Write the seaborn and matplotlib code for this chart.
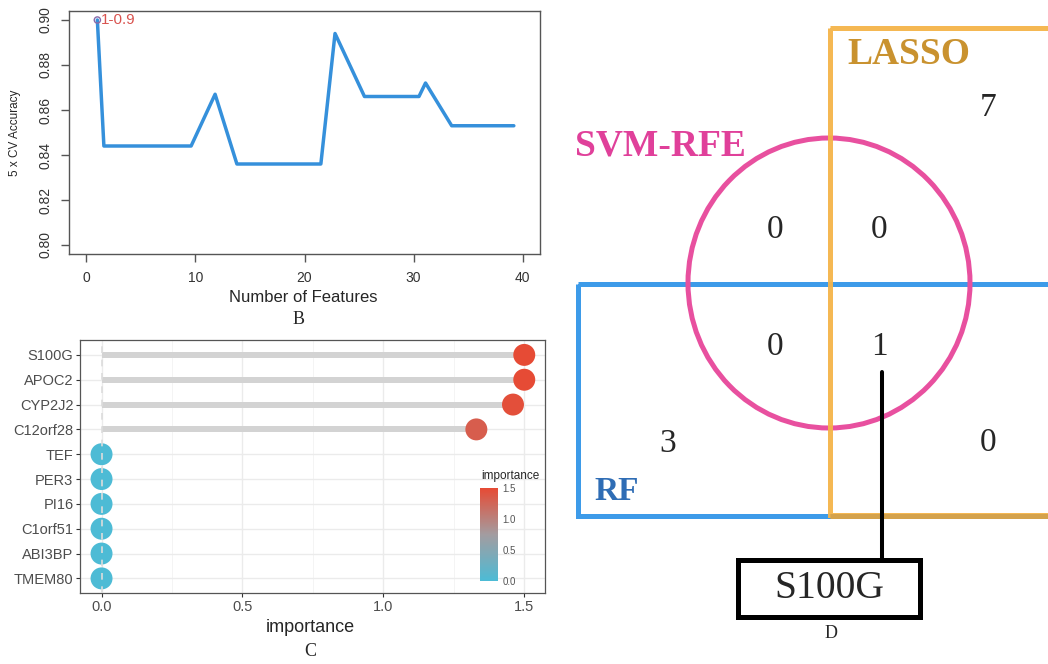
import numpy as np
import matplotlib
matplotlib.use("Agg")
import matplotlib.pyplot as plt
from matplotlib.colors import LinearSegmentedColormap, Normalize
from matplotlib.cm import ScalarMappable
from matplotlib.patches import Rectangle, Ellipse
import seaborn as sns

# B: SVM-RFE cross validation accuracy
n_features = [1, 1.6, 9.6, 11.8, 13.8, 21.5, 22.8, 25.5, 30.5, 31.1, 33.5, 39.2]
cv_acc = [0.900, 0.844, 0.844, 0.867, 0.836, 0.836, 0.894, 0.866, 0.866, 0.872, 0.853, 0.853]
best_n = 1
best_acc = 0.9

# C: random forest importance
genes = ["S100G", "APOC2", "CYP2J2", "C12orf28", "TEF", "PER3", "PI16", "C1orf51", "ABI3BP", "TMEM80"]
importance = [1.50, 1.50, 1.46, 1.33, 0, 0, 0, 0, 0, 0]

# D: venn counts
set_names = ["LASSO", "SVM-RFE", "RF"]
region_names = ["lasso", "svm", "svm_lasso", "svm_rf", "all", "rf", "rf_lasso"]
region_counts = [7, 0, 0, 0, 1, 3, 0]
shared_gene = "S100G"

W, H = 1048, 664
SERIF = ["Liberation Serif", "DejaVu Serif"]

sns.set_style("ticks")
plt.rcParams["font.family"] = ["Liberation Sans", "DejaVu Sans"]

fig = plt.figure(figsize=(W / 100, H / 100), dpi=100)


def px_axes(l, t, r, b, **kw):
    return fig.add_axes([l / W, 1 - b / H, (r - l) / W, (b - t) / H], **kw)


# ---------------- B ----------------
axB = px_axes(69, 11, 540, 254)
sns.lineplot(x=n_features, y=cv_acc, ax=axB, color="#3590DB", lw=2.5,
             estimator=None, sort=False)
axB.scatter([best_n], [best_acc], s=20, facecolors="none", edgecolors="#8a6aa8",
            linewidths=1, zorder=5)
axB.text(best_n + 0.35, best_acc, f"{best_n}-{best_acc:g}", color="#D9534F",
         fontsize=11, va="center", ha="left")
axB.set_xlim(-1.6, 41.6)
axB.set_ylim(0.796, 0.904)
axB.set_xticks([0, 10, 20, 30, 40])
yt = [0.80, 0.82, 0.84, 0.86, 0.88, 0.90]
axB.set_yticks(yt)
axB.set_yticklabels([f"{v:.2f}" for v in yt], rotation=90, va="center")
axB.tick_params(length=6, width=1, color="#555555", labelsize=10, labelcolor="#333333", pad=6)
for s in axB.spines.values():
    s.set_visible(True)
    s.set_color("#555555")
    s.set_linewidth(1)
axB.set_xlabel("")
axB.set_ylabel("")
fig.text(303 / W, 1 - 297 / H, "Number of Features", fontsize=12, ha="center", va="center")
fig.text(15 / W, 1 - 133 / H, "5 x CV Accuracy", fontsize=8.5, rotation=90,
         ha="center", va="center")
fig.text(299 / W, 1 - 319 / H, "B", fontsize=13, family=SERIF, ha="center", va="center")

# ---------------- C ----------------
cmap = LinearSegmentedColormap.from_list("imp", ["#4DBBD5", "#A39CA0", "#E64B35"])
norm = Normalize(0, 1.5)

axC = px_axes(80.4, 340, 545.4, 593.3)
ypos = np.arange(len(genes))[::-1]
axC.hlines(ypos, 0, importance, color="#d3d3d3", lw=4.3, zorder=2)
sns.scatterplot(x=importance, y=ypos, hue=importance, palette=cmap, hue_norm=(0, 1.5),
                s=250, legend=False, edgecolor="none", linewidth=0, ax=axC, zorder=3)
axC.axvline(0, color="#dcdcdc", ls=(0, (4, 4)), lw=1.2, zorder=4)
axC.set_xlim(-0.075, 1.575)
axC.set_ylim(-0.6, len(genes) - 0.4)
axC.set_xticks([0, 0.5, 1.0, 1.5])
axC.set_xticklabels(["0.0", "0.5", "1.0", "1.5"])
axC.set_xticks([0.25, 0.75, 1.25], minor=True)
axC.set_yticks(ypos)
axC.set_yticklabels(genes)
axC.grid(True, which="major", color="#ebebeb", lw=1.0, zorder=0)
axC.grid(True, which="minor", axis="x", color="#f3f3f3", lw=0.6, zorder=0)
axC.set_axisbelow(True)
axC.tick_params(which="major", length=3, width=0.8, color="#333333", labelsize=10.5,
                labelcolor="#4d4d4d", pad=2)
axC.tick_params(which="minor", length=0)
for s in axC.spines.values():
    s.set_visible(True)
    s.set_color("#555555")
    s.set_linewidth(0.9)
axC.set_xlabel("")
axC.set_ylabel("")
fig.text(310 / W, 1 - 627 / H, "importance", fontsize=13, ha="center", va="center")
fig.text(310 / W, 1 - 652 / H, "C", fontsize=13, family=SERIF, ha="center", va="center")

cax = px_axes(479.6, 488.3, 498.2, 580.7)
cb = fig.colorbar(ScalarMappable(norm=norm, cmap=cmap), cax=cax)
cb.outline.set_visible(False)
cb.set_ticks([0, 0.5, 1.0, 1.5])
cb.set_ticklabels(["0.0", "0.5", "1.0", "1.5"])
cax.tick_params(direction="in", left=True, right=True, length=4, width=0.8,
                color="white", labelsize=7, labelcolor="#555555", pad=3)
fig.text(510 / W, 1 - 476.5 / H, "importance", fontsize=8.5, ha="center", va="center")

# ---------------- D ----------------
axD = fig.add_axes([0, 0, 1, 1])
axD.set_xlim(0, W)
axD.set_ylim(H, 0)
axD.axis("off")

lw = 3.6
axD.add_patch(Rectangle((578, 284), 560, 232, fill=False, ec="#3D9BE9", lw=lw, zorder=1))
axD.add_patch(Ellipse((829, 283), 282, 290, fill=False, ec="#E8509F", lw=lw, zorder=2))
axD.add_patch(Rectangle((830, 28), 300, 487, fill=False, ec="#F5B44A", lw=lw, zorder=3,
                        alpha=0.95))
axD.plot([830, 1060], [515.5, 515.5], color="#D4A24C", lw=lw, zorder=4,
         solid_capstyle="butt")

name_pos = {"LASSO": (909, 55), "SVM-RFE": (660, 146), "RF": (617, 491)}
name_col = {"LASSO": "#C9922F", "SVM-RFE": "#E0409A", "RF": "#2F6DB5"}
name_size = {"LASSO": 27, "SVM-RFE": 27, "RF": 24}
for nm in set_names:
    x, y = name_pos[nm]
    axD.text(x, y, nm, color=name_col[nm], fontsize=name_size[nm], fontweight="bold",
             family=SERIF, ha="center", va="center", zorder=6)

region_pos = {"lasso": (988, 108), "svm": (775, 230), "svm_lasso": (879, 230),
              "svm_rf": (775, 347), "all": (879, 347), "rf": (668, 444),
              "rf_lasso": (988, 443)}
for nm, c in zip(region_names, region_counts):
    x, y = region_pos[nm]
    axD.text(x, y, str(c), fontsize=24, family=SERIF, ha="center", va="center", zorder=6)

axD.plot([882, 882], [372, 560], color="black", lw=2.9, zorder=5)
axD.add_patch(Rectangle((738, 560), 182, 57, fill=False, ec="black", lw=lw, zorder=5))
axD.text(829, 589, shared_gene, fontsize=28.5, family=SERIF, ha="center", va="center", zorder=6)
axD.text(831, 634, "D", fontsize=13, family=SERIF, ha="center", va="center")

fig.savefig("out.png", dpi=100)
